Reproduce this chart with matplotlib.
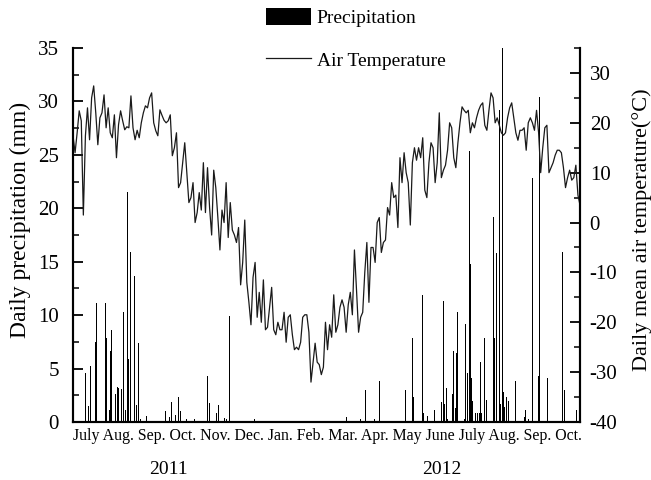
import numpy as np
import matplotlib.pyplot as plt
from matplotlib.ticker import MultipleLocator

plt.rcParams['font.family'] = ['Liberation Serif', 'DejaVu Serif']
plt.rcParams['axes.unicode_minus'] = False

# daily mean air temperature, read every 2 days from 1 July 2011
temp = [17.4, 14, 18, 22.4, 20.4, 1.5, 17.4, 23, 16.6, 25,
        27.4, 22, 15.6, 21, 22, 25.6, 19, 23, 18, 17,
        21.6, 13, 19.6, 22.4, 20.4, 18.6, 19.2, 19, 25.4, 19,
        16.6, 18.5, 17, 20, 22, 23.4, 23, 25, 26, 20,
        18.4, 17.4, 22.6, 21.5, 20.5, 20, 20.4, 21.6, 13.4,
        15, 18, 7, 8, 12, 16, 10, 4, 5, 8,
        0, 2, 6, 2.5, 12, 2, 11, 3, -2.5, 10.5,
        7, 1, -5.5, 2.5, 0, 8, -3, 4, -1.5, -2.5,
        -4, -1, -12.5, -8, 0.5, -12, -16, -20.5, -11, -8,
        -19, -14, -20, -11.5, -21.5, -21, -17, -13, -21.5,
        -22.5, -20, -21.5, -21.5, -18, -24, -19, -18.5, -22.5, -25.5,
        -25, -25.5, -24, -19, -18.5, -18.5, -22, -32, -28, -24.2,
        -28, -28.5, -30.5, -29, -20, -25.5, -20.5, -23, -14.5, -22,
        -20.5, -17, -15.5, -17, -22, -16.5, -14, -18.5, -5.5, -13.5,
        -22, -19, -18, -10, -4, -16, -5, -5, -8, 0,
        1, -6, -4, -3.5, 3, 1.5, 8, 5, 5.5, -1,
        13, 8, 14, 10, 8, -0.5, 12, 15, 12.5, 15,
        13, 17, 6.5, 5, 12, 16, 15, 8, 12, 22,
        9, 10.5, 11.5, 14.5, 20, 19, 13, 11, 16, 20,
        23.2, 22.5, 22, 22.5, 18, 20, 19, 21, 22.5,
        23.5, 24, 19.5, 18.5, 22.5, 26, 25, 20, 21, 19.5,
        18, 17.5, 18, 21, 23, 24, 21, 18, 16.5, 18.5,
        18.5, 19, 14.5, 20, 21, 20, 18.5, 22.5, 18, 10,
        15, 19, 19.5, 10, 11, 12, 13.5, 14.5, 14.5, 14,
        11, 7, 9, 10.5, 8.5, 9, 11.5, 5.5, 3.5]
temp_day = np.arange(len(temp)) * 2

# rain days (days since 1 July 2011) and amounts (mm)
rain_day = [12, 15, 17, 22, 23, 31, 32, 35, 36, 37, 41, 43, 44, 47, 49, 51, 53, 54, 56, 57,
            59, 61, 63, 65, 71, 89, 93, 95, 99, 102, 104, 110, 117, 130, 132, 139, 141, 144, 146, 148,
            151, 173, 175, 264, 278, 283, 291, 296, 321, 328, 329, 338, 339, 343, 349, 356, 358, 359, 361, 362,
            367, 368, 370, 371, 372, 378, 379, 381, 383, 384, 385, 386, 389, 391, 393, 394, 395, 398, 400, 406,
            407, 409, 412, 413, 415, 416, 417, 419, 421, 428, 432, 433, 436, 437, 440, 444, 450, 451, 459, 473,
            475, 487]
rain_mm = [4.6, 1.5, 5.2, 7.5, 11.1, 11.1, 7.9, 1.1, 6.6, 8.6, 2.6, 3.3, 3.2, 3.1, 10.3, 1.1, 21.5, 5.9, 15.9, 1.9,
           13.7, 1.6, 7.4, 0.3, 0.6, 1.0, 0.5, 1.9, 0.7, 2.3, 1.0, 0.3, 0.3, 4.3, 1.8, 0.8, 1.6, 0.7, 0.4, 0.3,
           9.9, 0.7, 0.3, 0.5, 0.3, 3.0, 0.3, 3.8, 3.0, 7.9, 2.3, 11.9, 0.8, 0.6, 1.1, 1.9, 11.3, 1.7, 3.2, 0.3,
           2.6, 6.6, 1.3, 6.5, 10.3, 0.3, 9.2, 4.6, 25.4, 14.8, 4.1, 2.0, 0.8, 0.8, 0.8, 5.6, 0.8, 7.9, 2.1, 19.2,
           7.9, 15.8, 29.2, 1.7, 35, 2.8, 1.4, 2.3, 2.0, 3.8, 20.8, 4.1, 0.5, 1.1, 0.3, 22.8, 4.3, 30.4, 4.1, 15.9,
           3.0, 1.1]

months = ['July', 'Aug.', 'Sep.', 'Oct.', 'Nov.', 'Dec.', 'Jan.', 'Feb.', 'Mar.', 'Apr.',
          'May', 'June', 'July', 'Aug.', 'Sep.', 'Oct.']
years = ['2011', '2012']

W, H = 651, 480
fig = plt.figure(figsize=(W / 100, H / 100), dpi=100)
ax = fig.add_axes([73 / W, 58 / H, 507 / W, 374 / H])
ax2 = ax.twinx()

bars = ax.bar(rain_day, rain_mm, width=0.9, color='black', linewidth=0, label='Precipitation')
line, = ax2.plot(temp_day, temp, color='#1a1a1a', lw=0.9, label='Air Temperature')

ax.set_xlim(0, 490)
ax.set_ylim(0, 35)
ax2.set_ylim(-40, 35)

ax.yaxis.set_major_locator(MultipleLocator(5))
ax.yaxis.set_minor_locator(MultipleLocator(2.5))
ax2.yaxis.set_major_locator(MultipleLocator(10))
ax2.yaxis.set_minor_locator(MultipleLocator(5))
for a in (ax, ax2):
    a.tick_params(axis='y', which='major', direction='in', length=7, width=1.3, labelsize=15)
    a.tick_params(axis='y', which='minor', direction='in', length=4, width=1.1)
    a.spines['top'].set_visible(False)
    for s in a.spines.values():
        s.set_linewidth(1.5)
ax.tick_params(axis='y', which='major', pad=10)
ax2.tick_params(axis='y', which='major', pad=7)
ax.set_xticks([])

ax.set_ylabel('Daily precipitation (mm)', fontsize=17)
ax.yaxis.set_label_coords(-0.083, 0.54)
ax2.set_ylabel('Daily mean air temperature(\u00b0C)', fontsize=16)
ax2.yaxis.set_label_coords(1.103, 0.513)

# month names are one line of text under the axis
fig.text(327 / W, 1 - 428 / H, ' '.join(months), ha='center', va='top', fontsize=11.4)
fig.text(168 / W, 1 - 470 / H, years[0], ha='center', va='center', fontsize=14)
fig.text(442 / W, 1 - 470 / H, years[1], ha='center', va='center', fontsize=14)

fig.legend([bars, line], ['Precipitation', 'Air Temperature'], loc='upper left',
           bbox_to_anchor=(266 / W, 1 - 8 / H), frameon=False, fontsize=14,
           handlelength=2.3, handleheight=1.0, labelspacing=1.2, handletextpad=0.3,
           borderpad=0, borderaxespad=0)

fig.savefig('out.png', dpi=100)
